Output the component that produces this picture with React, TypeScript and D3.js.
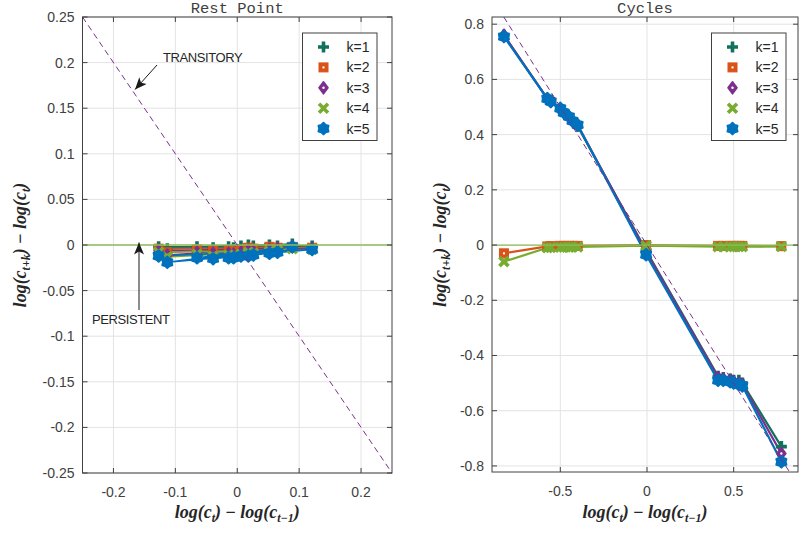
import React from 'react';
import * as d3 from 'd3';

const seriesNames = ['k=1', 'k=2', 'k=3', 'k=4', 'k=5'];
const seriesColors = ['#12715C', '#D95319', '#7E2F8E', '#77AC30', '#0072BD'];

// Rest Point panel (time order)
const restX = [-0.127, 0.121, -0.113, 0.089, -0.065, 0.065, -0.039, 0.052, -0.014, 0.026, -0.006, 0.018, 0.006];
const restK1 = [-0.002, -0.001, -0.004, 0.001, -0.002, -0.001, -0.003, 0.0, -0.002, -0.001, -0.003, 0.0, -0.001];
const restK2 = [-0.004, -0.003, -0.008, -0.002, -0.005, -0.003, -0.006, -0.002, -0.006, -0.004, -0.007, -0.003, -0.005];
const restK3 = [-0.006, -0.004, -0.011, -0.002, -0.008, -0.004, -0.009, -0.005, -0.009, -0.007, -0.01, -0.006, -0.008];
const restK4 = [-0.008, -0.005, -0.013, -0.004, -0.01, -0.006, -0.012, -0.007, -0.011, -0.009, -0.012, -0.008, -0.01];
const restK5 = [-0.012, -0.005, -0.019, -0.002, -0.014, -0.008, -0.015, -0.009, -0.014, -0.011, -0.014, -0.012, -0.012];

// Cycles panel
const cycX = [-0.825, -0.575, -0.555, -0.5, -0.48, -0.45, -0.43, -0.4, -0.005, 0.41, 0.44, 0.48, 0.5, 0.53, 0.55, 0.775];
const cycK1 = [0.76, 0.53, 0.52, 0.49, 0.48, 0.46, 0.45, 0.43, -0.02, -0.475, -0.48, -0.485, -0.49, -0.49, -0.5, -0.73];
const cycK2 = [-0.03, -0.005, -0.004, -0.003, -0.003, -0.003, -0.003, -0.003, 0.0, -0.003, -0.003, -0.003, -0.003, -0.003, -0.003, -0.004];
const cycK3 = [0.76, 0.53, 0.52, 0.49, 0.48, 0.465, 0.45, 0.435, -0.025, -0.48, -0.485, -0.49, -0.495, -0.5, -0.505, -0.755];
const cycK4 = [-0.06, -0.01, -0.009, -0.008, -0.008, -0.008, -0.007, -0.007, -0.002, -0.006, -0.006, -0.006, -0.006, -0.006, -0.006, -0.005];
const cycK5 = [0.755, 0.53, 0.52, 0.495, 0.48, 0.465, 0.45, 0.435, -0.035, -0.49, -0.49, -0.495, -0.5, -0.505, -0.51, -0.785];

const restTicksX = [-0.2, -0.1, 0, 0.1, 0.2];
const restTicksY = [-0.25, -0.2, -0.15, -0.1, -0.05, 0, 0.05, 0.1, 0.15, 0.2, 0.25];
const cycTicksX = [-0.5, 0, 0.5];
const cycTicksY = [-0.8, -0.6, -0.4, -0.2, 0, 0.2, 0.4, 0.6, 0.8];

const fmt = (v: number) => String(+v.toFixed(2));

function hexagram(r: number) {
  const pts: string[] = [];
  for (let i = 0; i < 12; i++) {
    const a = (Math.PI / 6) * i - Math.PI / 2;
    const rr = i % 2 === 0 ? r : r * 0.74;
    pts.push(`${(rr * Math.cos(a)).toFixed(2)},${(rr * Math.sin(a)).toFixed(2)}`);
  }
  return 'M' + pts.join('L') + 'Z';
}

function Marker({ k, x, y }: { k: number; x: number; y: number }) {
  const c = seriesColors[k];
  const t = `translate(${x},${y})`;
  if (k === 0) return <path transform={t} d="M-5.5,0H5.5M0,-5.5V5.5" stroke={c} strokeWidth={3.6} fill="none" />;
  if (k === 1)
    return (
      <g transform={t}>
        <rect x={-4.5} y={-4.5} width={9} height={9} fill={c} stroke={c} strokeWidth={1} />
        <rect x={-1} y={-1} width={2} height={2} fill="#fff" />
      </g>
    );
  if (k === 2)
    return (
      <g transform={t}>
        <path d="M0,-6L4.5,0L0,6L-4.5,0Z" fill={c} stroke={c} strokeWidth={1.6} strokeLinejoin="round" />
        <circle r={1.2} fill="#fff" />
      </g>
    );
  if (k === 3) return <path transform={t} d="M-4.5,-4.5L4.5,4.5M-4.5,4.5L4.5,-4.5" stroke={c} strokeWidth={3.6} fill="none" />;
  return <path transform={t} d={hexagram(5.8)} fill={c} stroke={c} strokeWidth={2} strokeLinejoin="round" />;
}

type PanelProps = {
  id: string;
  title: string;
  px: [number, number];
  py: [number, number];
  dx: [number, number];
  dy: [number, number];
  ticksX: number[];
  ticksY: number[];
  xs: number[];
  ys: number[][];
  legendX: number;
  lineW: number;
  ylabelX: number;
  children?: React.ReactNode;
};

function MathLabelX({ cx, y }: { cx: number; y: number }) {
  return (
    <text x={cx} y={y} textAnchor="middle" fontFamily="'Liberation Serif', 'DejaVu Serif', serif" fontStyle="italic" fontWeight="bold" fontSize={18} fill="#262626">
      log(c<tspan fontSize={12} dy={4}>t</tspan>
      <tspan dy={-4}>) </tspan>
      <tspan fontStyle="normal">−</tspan>
      <tspan> log(c</tspan>
      <tspan fontSize={12} dy={4}>t−1</tspan>
      <tspan dy={-4}>)</tspan>
    </text>
  );
}

function MathLabelY({ x, cy }: { x: number; cy: number }) {
  return (
    <text transform={`translate(${x},${cy}) rotate(-90)`} textAnchor="middle" fontFamily="'Liberation Serif', 'DejaVu Serif', serif" fontStyle="italic" fontWeight="bold" fontSize={18} fill="#262626">
      log(c<tspan fontSize={12} dy={4}>t+k</tspan>
      <tspan dy={-4}>) </tspan>
      <tspan fontStyle="normal">−</tspan>
      <tspan> log(c</tspan>
      <tspan fontSize={12} dy={4}>t</tspan>
      <tspan dy={-4}>)</tspan>
    </text>
  );
}

function Panel(p: PanelProps) {
  const xs = d3.scaleLinear().domain(p.dx).range(p.px);
  const ys = d3.scaleLinear().domain(p.dy).range([p.py[1], p.py[0]]);
  const [x0, x1] = p.px;
  const [y0, y1] = p.py;
  const cx = (x0 + x1) / 2;
  const line = d3
    .line<[number, number]>()
    .x((d) => xs(d[0]))
    .y((d) => ys(d[1]));
  const diagA = Math.max(p.dx[0], -p.dy[1]);
  const diagB = Math.min(p.dx[1], -p.dy[0]);
  const tickLen = 5;
  const lx = p.legendX;
  const ly = 33;
  return (
    <g>
      <defs>
        <clipPath id={p.id}>
          <rect x={x0} y={y0} width={x1 - x0} height={y1 - y0} />
        </clipPath>
      </defs>
      <rect x={x0} y={y0} width={x1 - x0} height={y1 - y0} fill="#fff" />
      {p.ticksX.map((t) => (
        <line key={'gx' + t} x1={xs(t)} x2={xs(t)} y1={y0} y2={y1} stroke="#e3e3e3" strokeWidth={1} />
      ))}
      {p.ticksY.map((t) => (
        <line key={'gy' + t} x1={x0} x2={x1} y1={ys(t)} y2={ys(t)} stroke="#e3e3e3" strokeWidth={1} />
      ))}
      <g clipPath={`url(#${p.id})`}>
        {p.ys.map((arr, k) => (
          <path key={'l' + k} d={line(p.xs.map((x, i) => [x, arr[i]] as [number, number])) || ''} fill="none" stroke={seriesColors[k]} strokeWidth={p.lineW} strokeLinejoin="round" />
        ))}
        {p.ys.map((arr, k) => (
          <g key={'m' + k}>
            {p.xs.map((x, i) => (
              <Marker key={i} k={k} x={xs(x)} y={ys(arr[i])} />
            ))}
          </g>
        ))}
        <line x1={xs(p.dx[0])} x2={xs(p.dx[1])} y1={ys(0)} y2={ys(0)} stroke="#8DBE5A" strokeWidth={1.3} />
        <line x1={xs(diagA)} y1={ys(-diagA)} x2={xs(diagB)} y2={ys(-diagB)} stroke="#7E2F8E" strokeWidth={1} strokeDasharray="6,4" />
      </g>
      <rect x={x0} y={y0} width={x1 - x0} height={y1 - y0} fill="none" stroke="#404040" strokeWidth={1} />
      {p.ticksX.map((t) => (
        <g key={'tx' + t}>
          <line x1={xs(t)} x2={xs(t)} y1={y1} y2={y1 - tickLen} stroke="#404040" />
          <line x1={xs(t)} x2={xs(t)} y1={y0} y2={y0 + tickLen} stroke="#404040" />
          <text x={xs(t)} y={y1 + 24} textAnchor="middle" fontFamily="'Liberation Sans', Arial, sans-serif" fontSize={14} fill="#404040">
            {fmt(t)}
          </text>
        </g>
      ))}
      {p.ticksY.map((t) => (
        <g key={'ty' + t}>
          <line x1={x0} x2={x0 + tickLen} y1={ys(t)} y2={ys(t)} stroke="#404040" />
          <line x1={x1} x2={x1 - tickLen} y1={ys(t)} y2={ys(t)} stroke="#404040" />
          <text x={x0 - 8} y={ys(t) + 5} textAnchor="end" fontFamily="'Liberation Sans', Arial, sans-serif" fontSize={14} fill="#404040">
            {fmt(t)}
          </text>
        </g>
      ))}
      <text x={cx} y={13} textAnchor="middle" fontFamily="'Liberation Mono', 'DejaVu Sans Mono', monospace" fontSize={15.5} fill="#404040">
        {p.title}
      </text>
      <rect x={lx} y={ly} width={74.5} height={107.5} fill="#fff" stroke="#404040" strokeWidth={1} />
      {seriesNames.map((n, k) => (
        <g key={'lg' + k}>
          <Marker k={k} x={lx + 21} y={ly + 14 + k * 20.4} />
          <text x={lx + 44} y={ly + 14 + k * 20.4 + 5} fontFamily="'Liberation Sans', Arial, sans-serif" fontSize={14} fill="#262626">
            {n}
          </text>
        </g>
      ))}
      <MathLabelX cx={cx} y={518} />
      <MathLabelY x={p.ylabelX} cy={(y0 + y1) / 2} />
      {p.children}
    </g>
  );
}

export default function App() {
  return (
    <svg width={799} height={533} style={{ position: 'fixed', left: 0, top: 0, background: '#fff' }}>
      <defs>
        <marker id="arrowhead" viewBox="0 0 12 10" refX={12} refY={5} markerWidth={13} markerHeight={10} orient="auto" markerUnits="userSpaceOnUse">
          <path d="M0,0L12,5L0,10L3,5Z" fill="#1a1a1a" />
        </marker>
      </defs>
      <rect width={799} height={533} fill="#fff" />
      <Panel
        id="clipRest"
        title="Rest Point"
        px={[82.5, 392]}
        py={[17, 473]}
        dx={[-0.25, 0.25]}
        dy={[-0.25, 0.25]}
        ticksX={restTicksX}
        ticksY={restTicksY}
        xs={restX}
        ys={[restK1, restK2, restK3, restK4, restK5]}
        legendX={302.5}
        lineW={1.6}
        ylabelX={26}
      >
        <text x={163} y={61.5} fontFamily="'Liberation Sans', Arial, sans-serif" fontSize={13} letterSpacing={-0.4} fill="#262626">
          TRANSITORY
        </text>
        <line x1={157} y1={65} x2={135} y2={89.5} stroke="#1a1a1a" strokeWidth={1} markerEnd="url(#arrowhead)" />
        <text x={92} y={324} fontFamily="'Liberation Sans', Arial, sans-serif" fontSize={13} letterSpacing={-0.4} fill="#262626">
          PERSISTENT
        </text>
        <line x1={139} y1={310} x2={139} y2={242.5} stroke="#1a1a1a" strokeWidth={1} markerEnd="url(#arrowhead)" />
      </Panel>
      <Panel
        id="clipCyc"
        title="Cycles"
        px={[492, 798]}
        py={[17, 472]}
        dx={[-0.894, 0.871]}
        dy={[-0.822, 0.826]}
        ticksX={cycTicksX}
        ticksY={cycTicksY}
        xs={cycX}
        ys={[cycK1, cycK2, cycK3, cycK4, cycK5]}
        legendX={711.5}
        lineW={2.2}
        ylabelX={446}
      />
    </svg>
  );
}
